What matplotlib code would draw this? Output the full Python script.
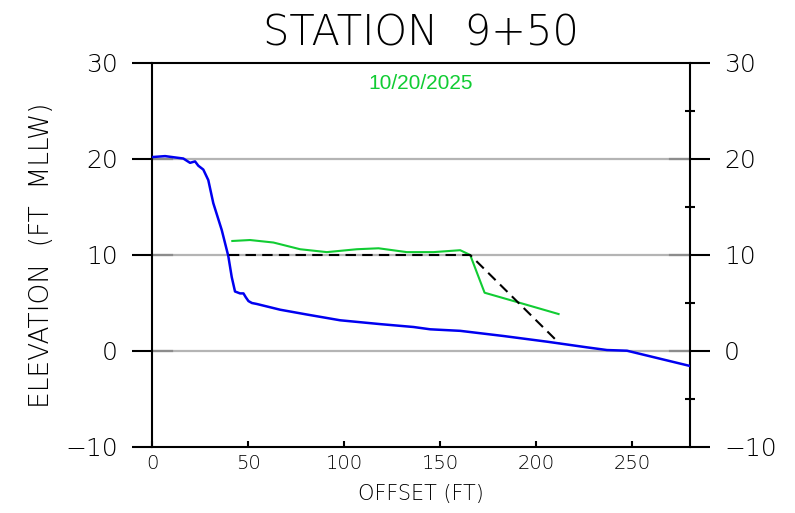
import matplotlib
matplotlib.use("Agg")
import matplotlib.pyplot as plt
from matplotlib.ticker import MultipleLocator

# surveyed profile (blue)
prof_x = [0, 6.8, 16.3, 19.8, 22.4, 24.1, 26.7, 29.3, 31.9, 36.3, 39.7, 41.5,
          43.2, 45.8, 47.6, 48.8, 50.2, 52.0, 54.5, 66.7, 80.6, 97.9, 118.8,
          136.1, 144.8, 160.4, 183.0, 205.6, 211.6, 226.4, 236.8, 247.2, 280.0]
prof_y = [20.2, 20.3, 20.05, 19.6, 19.75, 19.3, 18.9, 17.8, 15.4, 12.6, 9.9, 7.7,
          6.2, 6.0, 6.0, 5.6, 5.2, 5.0, 4.9, 4.3, 3.8, 3.2, 2.8,
          2.5, 2.26, 2.1, 1.56, 0.97, 0.8, 0.38, 0.1, 0.03, -1.56]

# 10/20/2025 survey (green)
survey_x = [41.8, 51.0, 63.2, 77.1, 91.0, 106.6, 117.9, 132.6, 146.5, 160.4,
            165.6, 173.1, 190.0, 211.6]
survey_y = [11.46, 11.56, 11.3, 10.6, 10.3, 10.6, 10.7, 10.3, 10.3, 10.5,
            10.0, 6.07, 5.1, 3.85]

# design template (dashed)
design_x = [40.0, 165.6, 212.0]
design_y = [10.0, 10.0, 0.8]

title = "STATION  9+50"
date_label = "10/20/2025"
grid_levels = [0, 10, 20]

fig = plt.figure(figsize=(7.95, 5.13), dpi=100)
ax = fig.add_axes([152/795, 1-447/513, 538/795, 384/513])

for g in grid_levels:
    ax.axhline(g, color="#b4b4b4", lw=1.6, zorder=1)
    ax.axhline(g, xmin=0, xmax=0.037, color="#8c8c8c", lw=1.6, zorder=1)
    ax.axhline(g, xmin=0.963, xmax=1, color="#8c8c8c", lw=1.6, zorder=1)

ax.plot(prof_x, prof_y, color="#0000f0", lw=1.8, zorder=3)
ax.plot(survey_x, survey_y, color="#11cc33", lw=1.5, zorder=4)
ax.plot(design_x, design_y, color="black", lw=1.5, ls=(0, (5, 3)), zorder=5)

ax.set_xlim(0, 280)
ax.set_ylim(-10, 30)

ax.xaxis.set_major_locator(MultipleLocator(50))
ax.yaxis.set_major_locator(MultipleLocator(10))
ax.yaxis.set_minor_locator(MultipleLocator(5))

for s in ax.spines.values():
    s.set_linewidth(1.5)

ax.tick_params(axis="y", which="major", direction="out", length=14.5, width=1.5,
               left=True, right=True, labelleft=True, labelright=True,
               labelsize=18, pad=10)
ax.tick_params(axis="y", which="minor", direction="inout", length=7, width=1.5,
               left=False, right=True)
ax.tick_params(axis="x", which="major", direction="in", length=4, width=1.5,
               labelsize=14, pad=5)

lbl_font = dict(family="DejaVu Sans", fontweight="light")
for t in ax.get_yticklabels() + ax.get_xticklabels():
    t.set_fontweight("light")

ax.set_ylabel("ELEVATION  (FT  MLLW)", fontsize=19, **lbl_font)
ax.yaxis.set_label_coords(-0.182, 0.5)
ax.set_xlabel("OFFSET (FT)", fontsize=15, **lbl_font)
ax.xaxis.set_label_coords(0.5, -0.097)
ax.xaxis.label.set_va("top")

fig.text(421/795, 1-45/513, title, ha="center", va="baseline",
         fontsize=30, **lbl_font)

ax.text(140, 27.9, date_label, ha="center", va="center", color="#11cc33",
        fontsize=15, family="Liberation Sans")

fig.savefig("out.png", dpi=100)
